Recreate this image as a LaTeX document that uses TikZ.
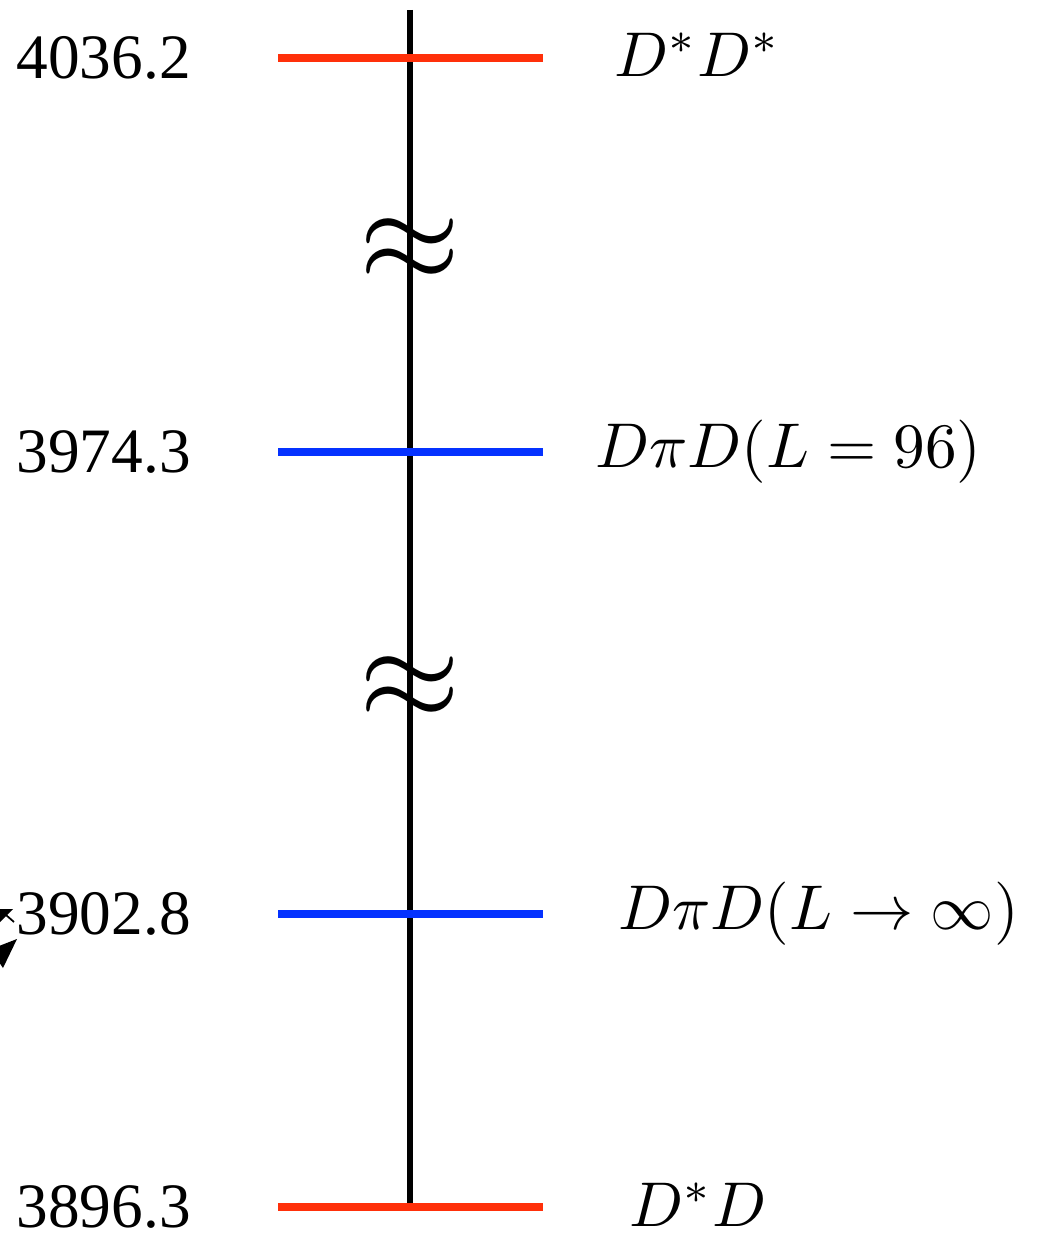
\documentclass[tikz,border=0pt]{standalone}
\usepackage[no-math]{fontspec}
\setmainfont{Liberation Serif}
\usepackage{tikz}
\usetikzlibrary{positioning,arrows.meta}
\usepackage{xcolor}
\definecolor{lvlred}{RGB}{255,48,10}
\definecolor{lvlblue}{RGB}{5,50,255}
\begin{document}
\begin{tikzpicture}[x=0.02cm,y=-0.02cm,
  every node/.style={inner sep=0pt},
  num/.style={font=\fontsize{36}{40}\selectfont,anchor=east},
  chan/.style={scale=3.6,anchor=west},
  level/.style={line width=4.4pt},
  brk/.style={scale=7.4}]
\useasboundingbox (0,0) rectangle (1039,1250);
\draw[line width=2.9pt] (410,10)--(410,1205);
% levels
\foreach \y/\c/\n in {58/lvlred/4036.2,452/lvlblue/3974.3,914/lvlblue/3902.8,1207/lvlred/3896.3}{
 \draw[level,\c] (278,\y)--(543,\y);
 \node[num] (m\n) at (191,\y) {\n};
}
\node[chan] (dsds) at (613,55) {$D^*D^*$};
\node[chan] (dpdl) at (594,452) {$D\pi D(L=96)$};
\node[chan] (dpdi) at (617,914) {$D\pi D(L\to\infty)$};
\node[chan] (dsd) at (628,1205) {$D^*D$};
% breaks
\node[brk] (b1) at (410,250) {$\approx$};
\node[brk] (b2) at (410,688) {$\approx$};
% arrow tips cut off at the left edge
\fill (13,909)--(-1,923)--(-1,909)--cycle;
\fill (17,939)--(3,968)--(-1,962)--(-1,946)--cycle;
\draw[line width=1pt] (6,915)--(14,922);
\end{tikzpicture}
\end{document}
